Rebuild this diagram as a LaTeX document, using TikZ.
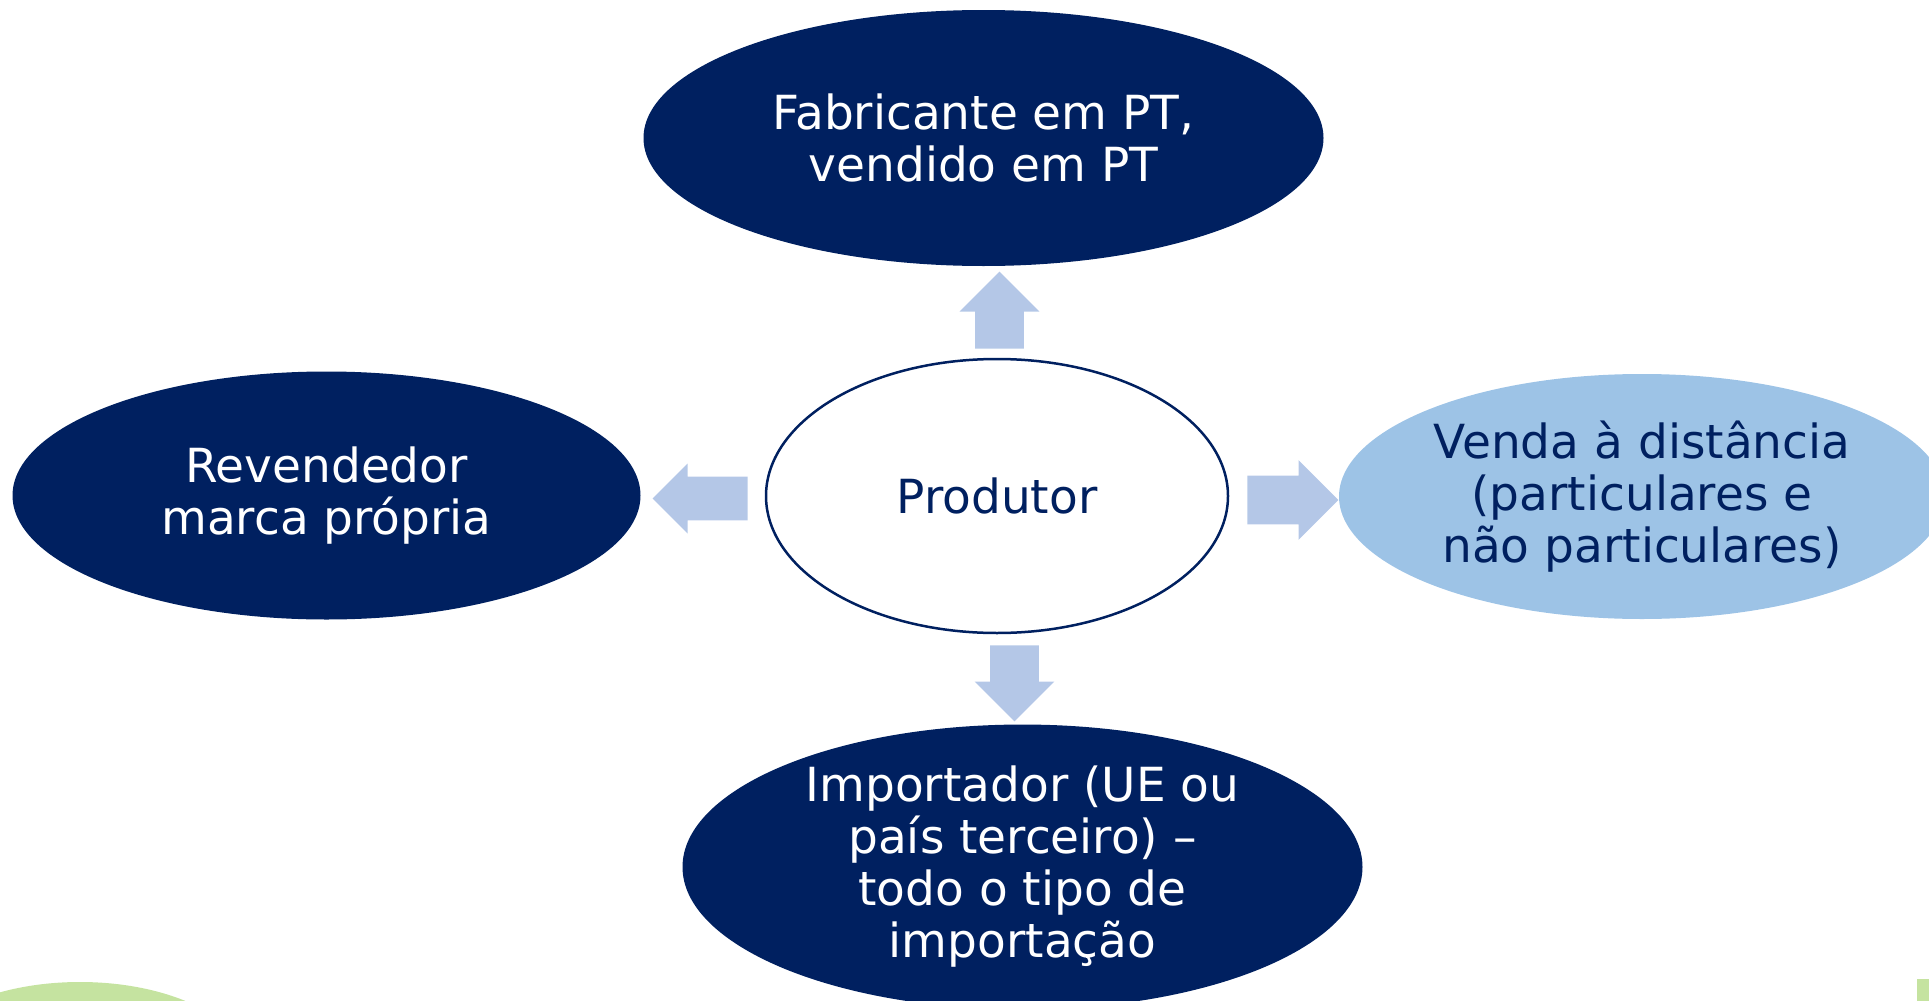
\documentclass[tikz,border=0pt]{standalone}
\usepackage{fontspec}
\setmainfont{DejaVu Sans}
\usetikzlibrary{shapes.geometric,shapes.arrows}

\definecolor{navy}{RGB}{0,32,96}
\definecolor{skyblue}{RGB}{157,195,230}
\definecolor{paleblue}{RGB}{180,199,231}
\definecolor{leafgreen}{RGB}{197,227,160}

\begin{document}
\begin{tikzpicture}[x=0.5pt,y=-0.5pt]
  \tikzset{
    ell/.style={ellipse, inner sep=0pt, align=center, font=\fontsize{23.5}{26}\selectfont},
    darkell/.style={ell, fill=navy, text=white},
    lightell/.style={ell, fill=skyblue, text=navy},
    centreell/.style={ell, draw=navy, line width=1.25pt, fill=white, text=navy},
    blockarrow/.style={single arrow, fill=paleblue, anchor=tail, inner xsep=0pt, inner ysep=12pt,
      minimum width=39.5pt, single arrow head extend=7.75pt, single arrow head indent=0pt}
  }
  \clip (0,0) rectangle (1929,1001);

  %-----green bits at the bottom edge
  \fill[leafgreen] (80,1070) ellipse (170 and 88);
  \fill[leafgreen] (1917,979) rectangle (1929,1001);

  %-----centre and the four kinds of producer
  \node (p) at (997,496) [centreell, minimum width=231pt, minimum height=137pt] {Produtor};
  \node (f) at (983.5,138) [darkell, minimum width=340pt, minimum height=128pt] {Fabricante em PT,\\vendido em PT};
  \node (rv) at (326.5,495.5) [darkell, minimum width=314pt, minimum height=124pt] {Revendedor\\marca própria};
  \node (vd) at (1642,496.5) [lightell, minimum width=303pt, minimum height=122.5pt] {Venda à distância\\(particulares e\\não particulares)};
  \node (im) at (1022.5,867) [darkell, minimum width=340pt, minimum height=141pt] {Importador (UE ou\\país terceiro) –\\todo o tipo de\\importação};

  %-----block arrows, placed by their tails
  \node (au) at (999.5,349) [blockarrow, rotate=90, minimum height=38.5pt] {};
  \node (ad) at (1014.5,645) [blockarrow, rotate=-90, minimum height=38pt] {};
  \node (al) at (748,498.5) [blockarrow, rotate=180, minimum height=47.5pt,
    minimum width=35pt, inner ysep=10.75pt, single arrow head extend=6.5pt] {};
  \node (ar) at (1247,500) [blockarrow, minimum height=45.5pt] {};
\end{tikzpicture}
\end{document}
